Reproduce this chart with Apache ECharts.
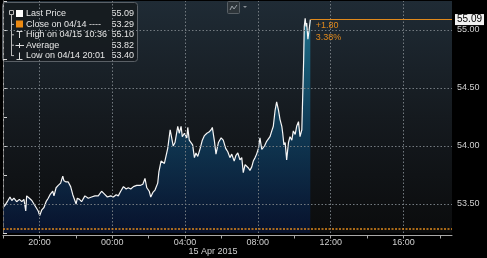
<!DOCTYPE html>
<html><head><meta charset="utf-8">
<script src="https://cdn.jsdelivr.net/npm/echarts@6/dist/echarts.min.js"></script>
<style>html,body{margin:0;padding:0;background:#000;}#c{width:487px;height:258px;}</style>
</head><body><div id="c"></div>
<script>
// minutes since 2015-04-14 18:00
const minutesSince1800 = [0,7,14,23,29,36,45,54,62,69,75,78,87,95,100,109,116,121,128,135,142,149,155,164,168,175,182,190,197,201,208,215,223,230,234,241,245,252,259,270,281,292,303,314,325,333,344,355,364,373,380,388,397,406,413,421,430,441,452,461,468,474,482,487,494,501,510,
514,521,532,536,543,551,556,561,567,576,581,587,591,598,606,609,614,620,625,631,636,642,650,657,664,672,679,686,690,697,702,710,719,726,734,741,748,754,762,768,774,781,787,792,798,803,809,814,820,825,831,836,842,847,853,862,869,875,880,
886,891,897,902,908,913,919,922,926,930,935,941,946,952,957,963,968,974,979,985,991,993,996,999,1001,1005,1009,1013];
const prices = [53.47,53.49,53.52,53.56,53.53,53.55,53.52,53.54,53.52,53.54,53.44,53.57,53.55,53.53,53.53,53.47,53.44,53.40,53.45,53.47,53.52,53.55,53.58,53.61,53.57,53.64,53.66,53.68,53.74,53.70,53.69,53.69,53.65,53.58,53.57,53.50,53.55,53.54,53.52,53.57,53.55,53.56,53.57,53.57,53.61,53.59,53.56,53.57,53.56,53.58,53.57,53.61,53.65,53.63,53.64,53.63,53.65,53.66,53.66,53.67,53.72,53.64,53.61,53.56,53.60,53.62,53.68,
53.78,53.87,53.85,53.84,53.98,54.14,54.07,54.00,54.03,54.17,54.11,54.17,54.08,54.11,54.07,54.16,54.05,54.06,54.01,53.90,53.94,53.91,53.98,54.05,54.09,54.11,54.12,54.14,54.16,54.04,53.93,54.03,54.07,54.05,53.98,53.95,53.90,53.93,53.87,53.92,53.94,53.88,53.90,53.77,53.84,53.85,53.81,53.79,53.82,53.87,53.90,53.93,53.98,54.07,53.97,54.00,54.04,54.03,54.08,
54.13,54.17,54.31,54.38,54.31,54.23,54.17,54.11,54.01,54.03,53.88,54.03,54.08,54.05,54.13,54.10,54.17,54.21,54.08,54.14,54.74,55.03,55.10,55.03,55.06,54.92,55.00,55.09];
const closePrice = 53.29;
const legendLabels = ['Last Price', 'Close on 04/14 ----', 'High on 04/15 10:36', 'Average', 'Low on 04/14 20:01'];
const legendValues = ['55.09', '53.29', '55.10', '53.82', '53.40'];
const xLabelMinutes = [120, 360, 600, 840, 1080, 1320]; // 20:00 .. 16:00
const yGridValues = [53.5, 54.0, 54.5, 55.0];
const dateLabel = '15 Apr 2015';

const X_MAX = 1480, Y_MIN = 53.25, Y_MAX = 55.25;
const FONT = 'Liberation Sans, Arial, sans-serif';
const ORANGE = '#e0891c';
const data = minutesSince1800.map((m, i) => [m, prices[i]]);
const lastM = minutesSince1800[minutesSince1800.length - 1];
const lastP = prices[prices.length - 1];
const chg = lastP - closePrice;
const pct = chg / closePrice * 100;

function fmtTime(m) {
  const h = (18 + Math.floor(m / 60)) % 24;
  const mm = m % 60;
  return (h < 10 ? '0' : '') + h + ':' + (mm < 10 ? '0' : '') + mm;
}

const gridLine = { color: '#737a80', type: [1.5, 2], width: 1 };
const mlData = [];
xLabelMinutes.forEach(m => mlData.push({ xAxis: m, lineStyle: gridLine, label: { show: false } }));
yGridValues.forEach(v => mlData.push({ yAxis: v, lineStyle: gridLine, label: { show: false } }));
mlData.push({ xAxis: 0, lineStyle: { color: '#707070', type: [4, 2], width: 1 }, label: { show: false } });
mlData.push({ yAxis: closePrice, lineStyle: { color: ORANGE, type: [2, 1.5], width: 1.5 }, label: { show: false } });
mlData.push([
  { coord: [lastM, lastP] },
  { coord: [X_MAX, lastP], lineStyle: { color: ORANGE, type: 'solid', width: 1 },
    label: { show: true, position: 'end', distance: 3, formatter: lastP.toFixed(2), backgroundColor: '#f2f2f2',
      color: '#000', fontSize: 10, fontFamily: FONT, padding: [1, 2, 0, 2] } }
]);

const chart = echarts.init(document.getElementById('c'), null, { renderer: 'canvas' });
const legendChildren = [
  { type: 'rect', shape: { x: 2.5, y: 2.5, width: 135, height: 59, r: 3 }, style: { fill: 'rgba(22,27,32,0.95)', stroke: '#5a6066', lineWidth: 1 } },
  { type: 'rect', shape: { x: 9.5, y: 10.5, width: 4, height: 4 }, style: { fill: 'none', stroke: '#bbb', lineWidth: 1 } },
  { type: 'line', shape: { x1: 11.5, y1: 14.5, x2: 11.5, y2: 56 }, style: { stroke: '#bbb', lineWidth: 1 } }
];
const rowY = [14, 24.4, 34.8, 45.2, 55.6];
legendLabels.forEach((t, i) => {
  legendChildren.push({ type: 'text', style: { x: 26, y: rowY[i], text: t, fill: '#e6e6e6', font: '9px ' + FONT, verticalAlign: 'middle' } });
  legendChildren.push({ type: 'text', style: { x: 134, y: rowY[i], text: legendValues[i], fill: '#e6e6e6', font: '9px ' + FONT, align: 'right', verticalAlign: 'middle' } });
  if (i > 0) legendChildren.push({ type: 'line', shape: { x1: 11.5, y1: rowY[i], x2: 14, y2: rowY[i] }, style: { stroke: '#bbb', lineWidth: 1 } });
});
legendChildren.push({ type: 'rect', shape: { x: 16, y: 10, width: 7, height: 7 }, style: { fill: '#ffffff' } });
legendChildren.push({ type: 'rect', shape: { x: 16, y: 20.5, width: 7, height: 7 }, style: { fill: '#ec8a12' } });
legendChildren.push({ type: 'polyline', shape: { points: [[16.5, 31.5], [22.5, 31.5]] }, style: { stroke: '#ddd', lineWidth: 1 } });
legendChildren.push({ type: 'line', shape: { x1: 19.5, y1: 31.5, x2: 19.5, y2: 38 }, style: { stroke: '#ddd', lineWidth: 1 } });
legendChildren.push({ type: 'line', shape: { x1: 15.5, y1: 45.5, x2: 24, y2: 45.5 }, style: { stroke: '#ddd', lineWidth: 1 } });
legendChildren.push({ type: 'line', shape: { x1: 19.5, y1: 43, x2: 19.5, y2: 48 }, style: { stroke: '#ddd', lineWidth: 1 } });
legendChildren.push({ type: 'line', shape: { x1: 19.5, y1: 52.5, x2: 19.5, y2: 59 }, style: { stroke: '#ddd', lineWidth: 1 } });
legendChildren.push({ type: 'line', shape: { x1: 16.5, y1: 59.5, x2: 22.5, y2: 59.5 }, style: { stroke: '#ddd', lineWidth: 1 } });

chart.setOption({
  animation: false,
  backgroundColor: '#000',
  grid: { left: 3, right: 35, top: 1, bottom: 25, show: true, borderWidth: 0,
    backgroundColor: { type: 'linear', x: 0, y: 0, x2: 0, y2: 1, colorStops: [
      { offset: 0, color: '#1f2b35' }, { offset: 0.5, color: '#151a1f' }, { offset: 1, color: '#0b0c0d' }] } },
  xAxis: {
    type: 'value', min: 0, max: X_MAX, interval: 120, offset: 2.5,
    axisLine: { show: true, lineStyle: { color: '#a8a8a8', width: 1 } },
    axisTick: { show: true, length: 3, lineStyle: { color: '#a8a8a8' } },
    splitLine: { show: false },
    axisLabel: { color: '#d0d0d0', fontSize: 9, fontFamily: FONT, margin: 3, showMaxLabel: false,
      formatter: v => (xLabelMinutes.indexOf(v) >= 0 ? fmtTime(v) : '') }
  },
  yAxis: {
    type: 'value', position: 'right', min: Y_MIN, max: Y_MAX, interval: 0.25,
    axisLine: { show: true, lineStyle: { color: '#a8a8a8', width: 1 } },
    axisTick: { show: true, length: 4, lineStyle: { color: '#d8d8d8' } },
    splitLine: { show: false },
    axisLabel: { color: '#d0d0d0', fontSize: 9, fontFamily: FONT, margin: 5,
      formatter: v => (Math.abs(v * 2 - Math.round(v * 2)) < 1e-6 ? v.toFixed(2) : '') }
  },
  graphic: [
    { type: 'text', style: { x: 213, y: 252, text: dateLabel, fill: '#d0d0d0', font: '9px ' + FONT, align: 'center', verticalAlign: 'middle' } },
    { type: 'group', children: [
      { type: 'rect', shape: { x: 227.5, y: 1.5, width: 12, height: 12, r: 1 }, style: { fill: '#2d3439', stroke: '#596066', lineWidth: 1 } },
      { type: 'polyline', shape: { points: [[230, 10], [232, 6], [234, 9], [237, 5]] }, style: { stroke: '#9aa0a6', lineWidth: 1, fill: 'none' } },
      { type: 'polygon', shape: { points: [[243, 6], [247, 6], [245, 8]] }, style: { fill: '#8a9096' } }
    ] },
    { type: 'group', children: legendChildren }
  ],
  series: [{
    type: 'line', data: data, showSymbol: false, symbol: 'none',
    lineStyle: { color: '#f6f6f6', width: 1.2 },
    areaStyle: { origin: 'start', color: { type: 'linear', x: 0, y: 0, x2: 0, y2: 1, colorStops: [
      { offset: 0, color: '#1d8eb0' }, { offset: 0.5, color: '#0f4a6e' }, { offset: 1, color: '#06143a' }] } },
    markLine: { silent: true, symbol: ['none', 'none'], animation: false, data: mlData },
    markPoint: { silent: true, symbol: 'circle', symbolSize: 1, itemStyle: { color: 'rgba(0,0,0,0)' },
      data: [{ coord: [lastM, lastP] }],
      label: { show: true, position: [6, 0], formatter: '+' + chg.toFixed(2) + '\n' + pct.toFixed(2) + '%',
        color: ORANGE, fontSize: 9, fontFamily: FONT, lineHeight: 12, align: 'left', verticalAlign: 'top' } }
  }]
});
</script></body></html>
